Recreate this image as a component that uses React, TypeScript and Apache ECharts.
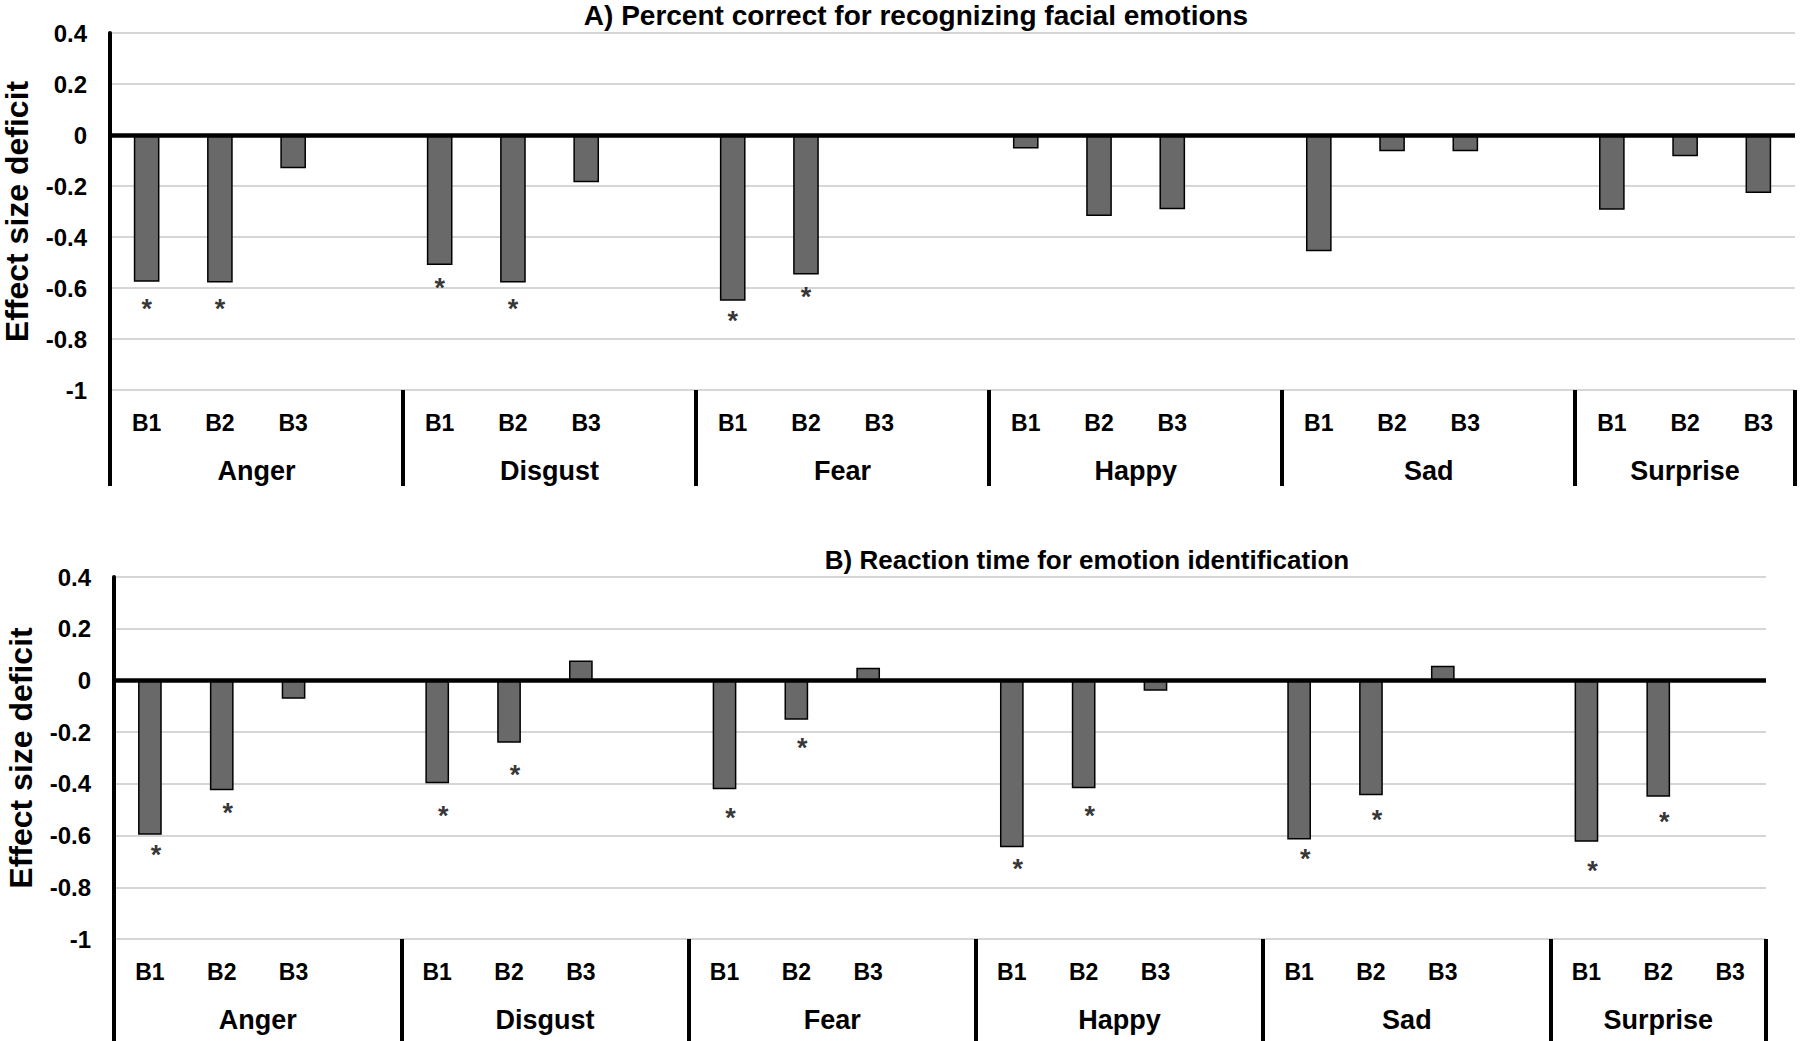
import React, { useEffect, useRef } from 'react';
import * as echarts from 'echarts';

// ---------- data ----------
const emotions = ['Anger', 'Disgust', 'Fear', 'Happy', 'Sad', 'Surprise'];
const blocks = ['B1', 'B2', 'B3'];

const titleA = 'A) Percent correct for recognizing facial emotions';
const titleB = 'B) Reaction time for emotion identification';
const yAxisTitle = 'Effect size deficit';

const yMin = -1;
const yMax = 0.4;
const yStep = 0.2;

// Panel A: percent correct (B1, B2, B3 per emotion)
const accuracyValues = [
  -0.575, -0.578, -0.13,
  -0.51, -0.578, -0.185,
  -0.65, -0.547, 0,
  -0.053, -0.318, -0.291,
  -0.456, -0.064, -0.064,
  -0.293, -0.083, -0.227,
];
// position of significance asterisks (null = not significant)
const accuracyStars: (number | null)[] = [
  -0.66, -0.657, null,
  -0.577, -0.657, null,
  -0.707, -0.612, null,
  null, null, null,
  null, null, null,
  null, null, null,
];

// Panel B: reaction time
const reactionValues = [
  -0.597, -0.425, -0.071,
  -0.398, -0.241, 0.077,
  -0.421, -0.152, 0.049,
  -0.645, -0.417, -0.04,
  -0.615, -0.444, 0.057,
  -0.624, -0.45, 0,
];
const reactionStars: (number | null)[] = [
  -0.65, -0.489, null,
  -0.502, -0.341, null,
  -0.508, -0.238, null,
  -0.708, -0.502, null,
  -0.669, -0.515, null,
  -0.714, -0.524, null,
];

// ---------- helpers ----------
const FONT = '"Liberation Sans", Arial, sans-serif';

function buildSlots() {
  const labels: string[] = [];
  const index: (number | null)[] = [];
  const groupStarts: number[] = [];
  const groupCenters: number[] = [];
  emotions.forEach((_, gi) => {
    const start = labels.length;
    groupStarts.push(start);
    blocks.forEach((b, bi) => {
      labels.push(b);
      index.push(gi * blocks.length + bi);
    });
    if (gi < emotions.length - 1) {
      labels.push('');
      index.push(null);
    }
    groupCenters.push(start + (labels.length - start) / 2);
  });
  return { labels, index, groupStarts, groupCenters };
}

const slots = buildSlots();

function mapToSlots(arr: (number | null)[]) {
  return slots.index.map((i) => (i === null || arr[i] === null ? '-' : arr[i]));
}

function panel(
  gi: number,
  values: number[],
  stars: (number | null)[],
  barWidth: string,
  tickLen: number,
  labelMargin: number,
  starDx: number
) {
  const xAxes = [
    {
      type: 'category',
      gridIndex: gi,
      data: slots.labels,
      position: 'bottom',
      axisLine: { show: false, onZero: false },
      axisTick: {
        show: true,
        interval: (idx: number) => slots.groupStarts.includes(idx),
        length: tickLen,
        lineStyle: { color: '#000', width: 4 },
      },
      axisLabel: {
        interval: 0,
        margin: 21,
        fontSize: 23,
        fontWeight: 'bold',
        color: '#000',
        fontFamily: FONT,
      },
      splitLine: { show: false },
    },
    {
      type: 'value',
      gridIndex: gi,
      min: 0,
      max: slots.labels.length,
      interval: 0.5,
      position: 'bottom',
      axisLine: { show: false, onZero: false },
      axisTick: { show: false },
      splitLine: { show: false },
      axisLabel: {
        margin: labelMargin,
        fontSize: 27,
        fontWeight: 'bold',
        color: '#000',
        fontFamily: FONT,
        showMinLabel: false,
        showMaxLabel: false,
        formatter: (v: number) => {
          const k = slots.groupCenters.findIndex((c) => Math.abs(c - v) < 1e-6);
          return k >= 0 ? emotions[k] : '';
        },
      },
    },
  ];
  const yAxis = {
    type: 'value',
    gridIndex: gi,
    min: yMin,
    max: yMax,
    interval: yStep,
    axisLine: { show: true, onZero: false, lineStyle: { color: '#000', width: 4 } },
    axisTick: { show: false },
    splitLine: { lineStyle: { color: '#d6d6d6', width: 2 } },
    axisLabel: {
      fontSize: 24,
      fontWeight: 'bold',
      color: '#000',
      margin: 23,
      fontFamily: FONT,
    },
    name: yAxisTitle,
    nameLocation: 'middle',
    nameGap: 77,
    nameTextStyle: { fontSize: 32, fontWeight: 'bold', color: '#000', fontFamily: FONT },
  };
  const series = [
    {
      type: 'bar',
      xAxisIndex: gi * 2,
      yAxisIndex: gi,
      data: mapToSlots(values),
      barWidth,
      itemStyle: { color: '#696969', borderColor: '#000', borderWidth: 1.5 },
      silent: true,
      markLine: {
        silent: true,
        symbol: ['none', 'none'],
        label: { show: false },
        lineStyle: { color: '#000', width: 4.5, type: 'solid' },
        data: [{ yAxis: 0 }],
      },
    },
    {
      type: 'scatter',
      xAxisIndex: gi * 2,
      yAxisIndex: gi,
      data: mapToSlots(stars),
      symbolSize: 0,
      silent: true,
      label: {
        show: true,
        position: 'inside',
        formatter: '*',
        fontSize: 27,
        fontWeight: 'bold',
        color: '#000',
        fontFamily: FONT,
        offset: [starDx, 6],
      },
    },
  ];
  return { xAxes, yAxis, series };
}

export default function App() {
  const ref = useRef<HTMLDivElement>(null);

  useEffect(() => {
    if (!ref.current) return;
    const chart = echarts.init(ref.current, undefined, { renderer: 'svg' });
    const a = panel(0, accuracyValues, accuracyStars, '35%', 96, 67, 0);
    const b = panel(1, reactionValues, reactionStars, '33%', 102, 67, 6);
    chart.setOption({
      animation: false,
      backgroundColor: '#fff',
      textStyle: { fontFamily: FONT },
      grid: [
        { left: 110, top: 33, width: 1685, height: 357, containLabel: false, outerBoundsMode: 'none' },
        { left: 114, top: 577, width: 1652, height: 362, containLabel: false, outerBoundsMode: 'none' },
      ],
      xAxis: [...a.xAxes, ...b.xAxes],
      yAxis: [a.yAxis, b.yAxis],
      series: [...a.series, ...b.series],
      graphic: [
        {
          type: 'text',
          x: 916,
          y: 15,
          style: {
            text: titleA,
            fontSize: 28,
            fontWeight: 'bold',
            fontFamily: FONT,
            fill: '#000',
            align: 'center',
            verticalAlign: 'middle',
            textAlign: 'center',
            textVerticalAlign: 'middle',
          },
        },
        {
          type: 'text',
          x: 1087,
          y: 560,
          style: {
            text: titleB,
            fontSize: 26,
            fontWeight: 'bold',
            fontFamily: FONT,
            fill: '#000',
            align: 'center',
            verticalAlign: 'middle',
            textAlign: 'center',
            textVerticalAlign: 'middle',
          },
        },
      ],
    });
    return () => chart.dispose();
  }, []);

  return (
    <div
      ref={ref}
      style={{ position: 'absolute', left: 0, top: 0, width: 1800, height: 1041, background: '#fff' }}
    />
  );
}
